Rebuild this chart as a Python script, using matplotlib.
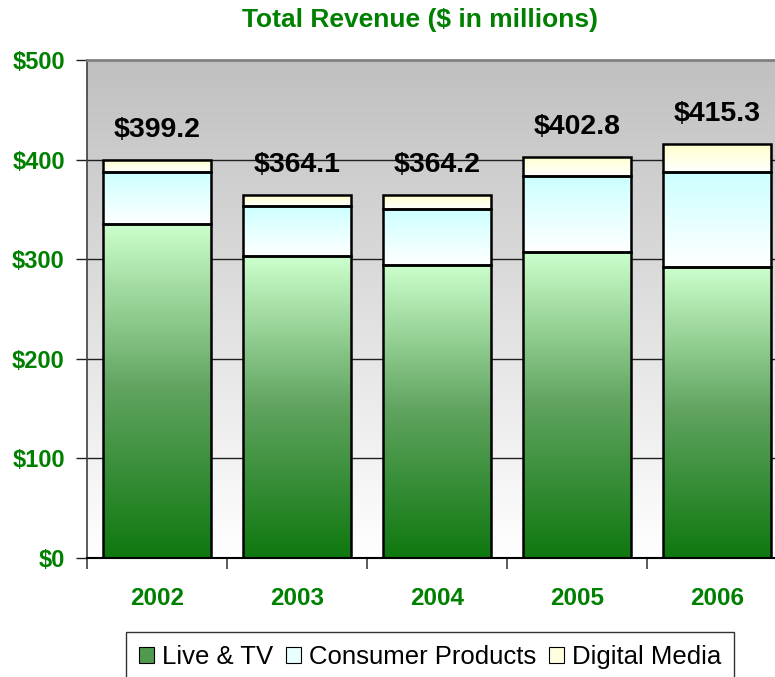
import numpy as np
import matplotlib
matplotlib.use("Agg")
import matplotlib.pyplot as plt
from matplotlib.colors import LinearSegmentedColormap
from matplotlib.patches import Patch

plt.rcParams['font.family'] = ['Liberation Sans', 'DejaVu Sans']

years = ["2002", "2003", "2004", "2005", "2006"]
live_tv = [335.4, 302.8, 294.5, 307.5, 292.5]
consumer = [51.8, 50.3, 56.3, 75.7, 94.7]
digital = [12.0, 11.0, 13.4, 19.6, 28.1]
totals = ["$399.2", "$364.1", "$364.2", "$402.8", "$415.3"]
yticks = [0, 100, 200, 300, 400, 500]
ytick_labels = ["$0", "$100", "$200", "$300", "$400", "$500"]
series_names = ["Live & TV", "Consumer Products", "Digital Media"]

GREEN = "#008000"

fig = plt.figure(figsize=(7.75, 6.77), dpi=100)
ax = fig.add_axes([87/775, 1-558/677, 700/775, 498/677])

# background gradient
bg = LinearSegmentedColormap.from_list("bg", ["#ffffff", "#c0c0c0"])
grad = np.linspace(0, 1, 256).reshape(-1, 1)
ax.imshow(grad, cmap=bg, origin="lower", extent=(0, 1, 0, 1), transform=ax.transAxes,
          aspect="auto", zorder=0)

x = np.arange(len(years))
width = 0.77
cmaps = [
    LinearSegmentedColormap.from_list("g", ["#0f780f", "#5fa35f", "#ccffcc"]),
    LinearSegmentedColormap.from_list("c", ["#ffffff", "#ccffff"]),
    LinearSegmentedColormap.from_list("y", ["#ffffff", "#ffffcc"]),
]

bottom = np.zeros(len(years))
for vals, cm in zip([live_tv, consumer, digital], cmaps):
    bars = ax.bar(x, vals, width, bottom=bottom, facecolor="none", edgecolor="black",
                  linewidth=1.8, zorder=3)
    for b in bars:
        x0, y0 = b.get_x(), b.get_y()
        im = ax.imshow(grad, cmap=cm, origin="lower", aspect="auto",
                       extent=(x0, x0 + b.get_width(), y0, y0 + b.get_height()), zorder=2)
        im.set_clip_path(b)
    bottom = bottom + np.array(vals)

for xi, top, lab in zip(x, bottom, totals):
    ax.text(xi, top + 17, lab, ha="center", va="bottom", fontsize=20.5, fontweight="bold",
            color="black", zorder=4)

ax.set_xlim(-0.5, 4.5)
ax.set_ylim(0, 500)

ax.set_yticks(yticks)
ax.set_yticklabels(ytick_labels)
for yv in yticks[1:-1]:
    ax.axhline(yv, color="#202020", linewidth=1.0, zorder=1)

ax.set_xticks(x)
ax.set_xticklabels(years)
ax.set_xticks(np.arange(-0.5, 5.0, 1.0), minor=True)
ax.tick_params(axis="x", which="major", length=0, pad=21, labelsize=17.5, labelcolor=GREEN)
ax.tick_params(axis="x", which="minor", length=8, width=1.2, color="#404040")
ax.tick_params(axis="y", length=8, width=1.0, color="#202020", pad=8, labelsize=17,
               labelcolor=GREEN)
for t in ax.get_xticklabels() + ax.get_yticklabels():
    t.set_fontweight("bold")

ax.spines["right"].set_visible(False)
ax.spines["top"].set_color("#808080")
ax.spines["top"].set_linewidth(2)
ax.spines["left"].set_color("#404040")
ax.spines["left"].set_linewidth(1.2)
ax.spines["bottom"].set_color("black")
ax.spines["bottom"].set_linewidth(1.5)

fig.text(420/775, 1-20/677, "Total Revenue ($ in millions)", ha="center", va="center",
         fontsize=19, fontweight="bold", color=GREEN)

handles = [
    Patch(facecolor="#4f9a4f", edgecolor="black", linewidth=0.8),
    Patch(facecolor="#e8ffff", edgecolor="black", linewidth=0.8),
    Patch(facecolor="#ffffe0", edgecolor="black", linewidth=0.8),
]
leg = fig.legend(handles, series_names, loc="upper center", bbox_to_anchor=(430/775, 1-632/677),
                 ncol=3, fontsize=18.5, frameon=True, fancybox=False, edgecolor="black",
                 handlelength=0.6, handleheight=0.6, handletextpad=0.3, columnspacing=0.5,
                 borderpad=0.5, borderaxespad=0)
leg.get_frame().set_linewidth(1.0)

fig.savefig("out.png", dpi=100)
